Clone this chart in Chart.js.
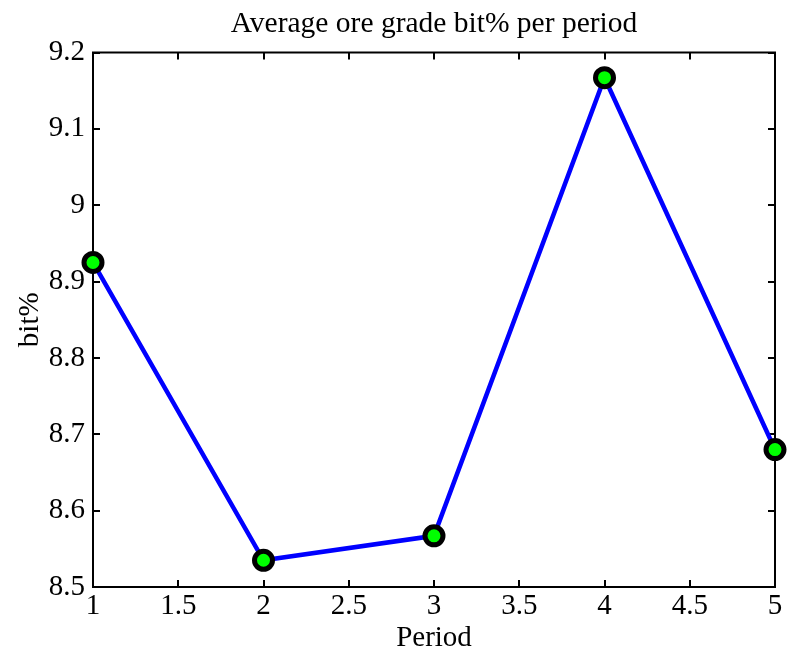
<!DOCTYPE html>
<html>
<head>
<meta charset="utf-8">
<script src="https://cdn.jsdelivr.net/npm/chart.js@4/dist/chart.umd.min.js"></script>
<style>
  html, body { margin: 0; padding: 0; background: #fff; }
  #wrap { width: 789px; height: 658px; }
</style>
</head>
<body>
<div id="wrap"><canvas id="gradeChart" width="789" height="658"></canvas></div>
<script>
// data
const periods = [1, 2, 3, 4, 5];
const gradeValues = [8.925, 8.535, 8.567, 9.167, 8.680];
const xTicks = [1, 1.5, 2, 2.5, 3, 3.5, 4, 4.5, 5];
const yTicks = [8.5, 8.6, 8.7, 8.8, 8.9, 9, 9.1, 9.2];

const serif = "'Liberation Serif', 'Times New Roman', serif";
const fontSize = 29;

// matlab style box with inward ticks on all four sides
const boxTicks = {
  id: "boxTicks",
  afterLayout(chart) {
    const t = chart.titleBlock;
    if (t) {
      t.left = chart.chartArea.left;
      t.right = chart.chartArea.right;
      t.width = t.right - t.left;
    }
  },
  beforeDatasetsDraw(chart) {
    const { ctx, chartArea: a, scales } = chart;
    const len = 7;
    ctx.save();
    ctx.strokeStyle = "#000";
    ctx.lineWidth = 2;
    ctx.strokeRect(a.left, a.top, a.right - a.left, a.bottom - a.top);
    ctx.beginPath();
    scales.x.ticks.forEach((t) => {
      const px = Math.round(scales.x.getPixelForValue(t.value));
      ctx.moveTo(px, a.bottom);
      ctx.lineTo(px, a.bottom - len);
      ctx.moveTo(px, a.top);
      ctx.lineTo(px, a.top + len);
    });
    scales.y.ticks.forEach((t) => {
      const py = Math.round(scales.y.getPixelForValue(t.value));
      ctx.moveTo(a.left, py);
      ctx.lineTo(a.left + len, py);
      ctx.moveTo(a.right, py);
      ctx.lineTo(a.right - len, py);
    });
    ctx.stroke();
    ctx.restore();
  },
};

const ctx = document.getElementById("gradeChart").getContext("2d");
new Chart(ctx, {
  type: "line",
  data: {
    datasets: [
      {
        label: "bit%",
        data: periods.map((p, i) => ({ x: p, y: gradeValues[i] })),
        borderColor: "#0000ff",
        borderWidth: 4.5,
        pointRadius: 9,
        pointBorderWidth: 5,
        pointBackgroundColor: "#00ff00",
        pointBorderColor: "#000000",
        tension: 0,
        clip: false,
      },
    ],
  },
  options: {
    responsive: false,
    animation: false,
    events: [],
    layout: { autoPadding: false, padding: { left: 0, right: 14, top: 0, bottom: 0 } },
    plugins: {
      legend: { display: false },
      tooltip: { enabled: false },
      title: {
        display: true,
        text: "Average ore grade bit% per period",
        color: "#000",
        font: { family: serif, size: 29.5, weight: "normal", lineHeight: 1 },
        padding: { top: 9, bottom: 14 },
      },
    },
    scales: {
      x: {
        type: "linear",
        min: 1,
        max: 5,
        afterBuildTicks: (s) => { s.ticks = xTicks.map((v) => ({ value: v })); },
        afterFit: (s) => { s.height = 71; },
        grid: { display: false, drawTicks: false },
        border: { display: false },
        ticks: {
          color: "#000",
          padding: 5,
          maxRotation: 0,
          font: { family: serif, size: fontSize, lineHeight: 1 },
          callback: (v) => String(+Number(v).toFixed(2)),
        },
        title: {
          display: true,
          text: "Period",
          color: "#000",
          font: { family: serif, size: fontSize, lineHeight: 1 },
          padding: { top: 0, bottom: 5 },
        },
      },
      y: {
        type: "linear",
        min: 8.5,
        max: 9.2,
        afterBuildTicks: (s) => { s.ticks = yTicks.map((v) => ({ value: v })); },
        afterFit: (s) => { s.width = 93; },
        grid: { display: false, drawTicks: false },
        border: { display: false },
        ticks: {
          color: "#000",
          padding: 8,
          font: { family: serif, size: fontSize, lineHeight: 1 },
          callback: (v) => String(+Number(v).toFixed(2)),
        },
        title: {
          display: true,
          text: "bit%",
          color: "#000",
          font: { family: serif, size: fontSize, lineHeight: 1 },
          padding: { top: 16, bottom: 0 },
        },
      },
    },
  },
  plugins: [boxTicks],
});
</script>
</body>
</html>
